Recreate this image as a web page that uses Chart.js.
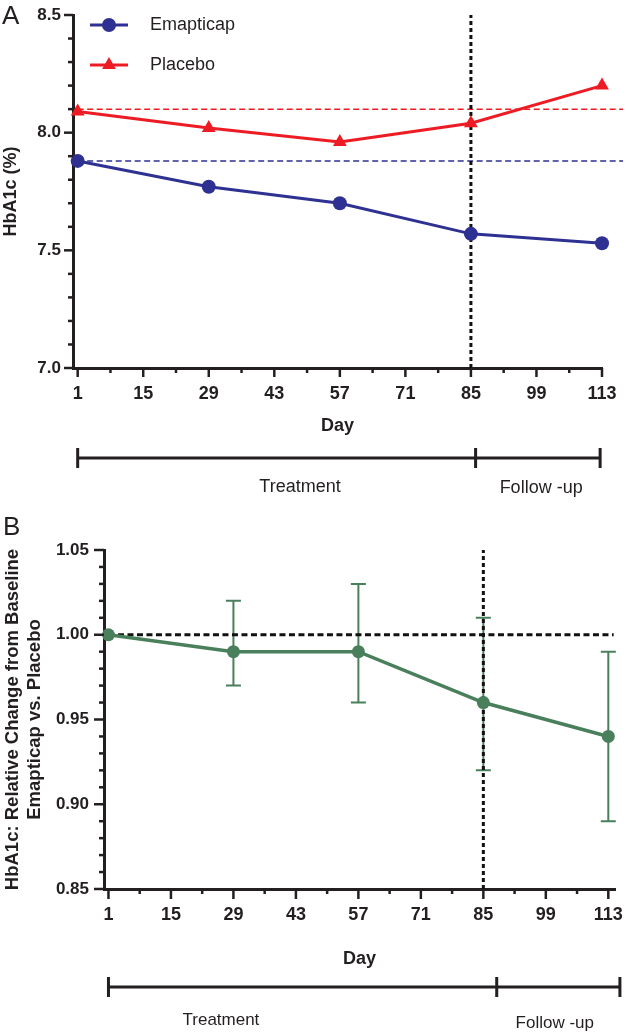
<!DOCTYPE html>
<html>
<head>
<meta charset="utf-8">
<script src="https://cdn.jsdelivr.net/npm/chart.js@4.4.0/dist/chart.umd.min.js"></script>
<style>
body { margin: 0; background: #fff; }
#wrapA { position: absolute; left: 0; top: 0; width: 626px; height: 515px; }
#wrapB { position: absolute; left: 0; top: 515px; width: 626px; height: 521px; }
</style>
</head>
<body>
<div id="wrapA"><canvas id="chartA"></canvas></div>
<div id="wrapB"><canvas id="chartB"></canvas></div>
<script>
// data
var days = [1, 29, 57, 85, 113];
var emapticap = [7.88, 7.77, 7.70, 7.57, 7.53];
var placebo = [8.09, 8.02, 7.96, 8.04, 8.20];
var baseline_emapticap = 7.88;
var baseline_placebo = 8.10;
var ratio = [1.00, 0.99, 0.99, 0.96, 0.94];
var ratio_lo = [null, 0.97, 0.96, 0.92, 0.89];
var ratio_hi = [null, 1.02, 1.03, 1.01, 0.99];
var ratio_ref = 1.00;
var end_of_treatment = 85;
var x_ticks = [1, 15, 29, 43, 57, 71, 85, 99, 113];
var y_ticks_a = [7.0, 7.5, 8.0, 8.5];
var y_ticks_b = [0.85, 0.90, 0.95, 1.00, 1.05];
var phase_names = ["Treatment", "Follow -up"];

var FONT = "'Liberation Sans', Arial, sans-serif";
var INK = "#231f20";
var BLUE = "#2e3192";
var RED = "#ed1c24";
var GREEN = "#4a7f5c";

// layout bits (not data)
var look_a = {
    letter: "A", letterX: 2, letterY: 17,
    barDays: [1, 86, 112.6], labelDays: [48.5, 100],
    barY: 90, labelY: [119, 120], labelSize: 18,
    majorLen: 9, minorLen: 5, refEnd: 117.5
};
var look_b = {
    letter: "B", letterX: 3, letterY: 13,
    barDays: [1, 88, 115.6], labelDays: [26.2, 101],
    barY: 98, labelY: [131, 134], labelSize: 17,
    majorLen: 10, minorLen: 5, refEnd: 114.2
};

Chart.defaults.font.family = FONT;
Chart.defaults.color = INK;
Chart.defaults.animation = false;

function build_ticks(major, steps, digits) {
    var out = [];
    for (var i = 0; i < major.length; i++) {
        out.push({value: major[i], lab: major[i].toFixed(digits)});
        if (i < major.length - 1) {
            var step = (major[i + 1] - major[i]) / steps;
            for (var k = 1; k < steps; k++) {
                out.push({value: major[i] + step * k, lab: ""});
            }
        }
    }
    return out;
}

function xy(xs, ys) {
    var pts = [];
    for (var i = 0; i < xs.length; i++) pts.push({x: xs[i], y: ys[i]});
    return pts;
}

function make_decor(look, legend) {
    return {
        id: "decor",
        afterDraw: function(chart) {
            var ctx = chart.ctx;
            var area = chart.chartArea;
            var sx = chart.scales.x;
            var sy = chart.scales.y;
            ctx.save();
            ctx.strokeStyle = INK;
            ctx.lineWidth = 2.5;
            // tick marks
            sx.ticks.forEach(function(t) {
                var px = sx.getPixelForValue(t.value);
                ctx.beginPath();
                ctx.moveTo(px, area.bottom);
                ctx.lineTo(px, area.bottom + (t.lab ? look.majorLen : look.minorLen));
                ctx.stroke();
            });
            sy.ticks.forEach(function(t) {
                var py = sy.getPixelForValue(t.value);
                ctx.beginPath();
                ctx.moveTo(area.left, py);
                ctx.lineTo(area.left - (t.lab ? look.majorLen : look.minorLen), py);
                ctx.stroke();
            });
            // treatment / follow-up bar
            var by = area.bottom + look.barY;
            var b0 = sx.getPixelForValue(look.barDays[0]);
            var b1 = sx.getPixelForValue(look.barDays[1]);
            var b2 = sx.getPixelForValue(look.barDays[2]);
            ctx.lineWidth = 3;
            ctx.beginPath();
            ctx.moveTo(b0, by); ctx.lineTo(b2, by);
            [b0, b1, b2].forEach(function(px) {
                ctx.moveTo(px, by - 10); ctx.lineTo(px, by + 10);
            });
            ctx.stroke();
            ctx.fillStyle = INK;
            ctx.font = look.labelSize + "px " + FONT;
            ctx.textAlign = "center";
            ctx.textBaseline = "middle";
            for (var i = 0; i < phase_names.length; i++) {
                ctx.fillText(phase_names[i], sx.getPixelForValue(look.labelDays[i]), area.bottom + look.labelY[i]);
            }
            // panel letter
            ctx.font = "26px " + FONT;
            ctx.textAlign = "left";
            ctx.fillText(look.letter, look.letterX, look.letterY);
            // legend (panel A only)
            if (legend) {
                ctx.font = "18px " + FONT;
                legend.forEach(function(item, n) {
                    var ly = 25 + n * 40;
                    ctx.strokeStyle = item.color;
                    ctx.fillStyle = item.color;
                    ctx.lineWidth = 3;
                    ctx.beginPath();
                    ctx.moveTo(90, ly); ctx.lineTo(128, ly);
                    ctx.stroke();
                    Chart.helpers.drawPoint(ctx, {pointStyle: item.style, radius: item.radius, borderWidth: 0, rotation: 0}, 109, ly);
                    ctx.fillStyle = INK;
                    ctx.fillText(item.name, 150, ly);
                });
            }
            ctx.restore();
        }
    };
}

var error_bars = {
    id: "error_bars",
    beforeDatasetsDraw: function(chart) {
        var ctx = chart.ctx;
        var sx = chart.scales.x;
        var sy = chart.scales.y;
        ctx.save();
        ctx.strokeStyle = GREEN;
        ctx.lineWidth = 2;
        for (var i = 0; i < days.length; i++) {
            if (ratio_lo[i] === null) continue;
            var px = sx.getPixelForValue(days[i]);
            var p1 = sy.getPixelForValue(ratio_lo[i]);
            var p2 = sy.getPixelForValue(ratio_hi[i]);
            ctx.beginPath();
            ctx.moveTo(px, p1); ctx.lineTo(px, p2);
            ctx.moveTo(px - 7.5, p1); ctx.lineTo(px + 7.5, p1);
            ctx.moveTo(px - 7.5, p2); ctx.lineTo(px + 7.5, p2);
            ctx.stroke();
        }
        ctx.restore();
    }
};

function x_axis(maxDay, height, titlePad) {
    return {
        type: "linear", min: 0, max: maxDay,
        afterBuildTicks: function(scale) { scale.ticks = build_ticks(x_ticks, 2, 0); },
        afterFit: function(scale) {
            scale.height = height;
            scale.paddingLeft = 0;
            scale.paddingRight = 0;
        },
        grid: {display: false, drawTicks: false},
        border: {display: true, color: INK, width: 3},
        ticks: {
            autoSkip: false, maxRotation: 0, padding: 15,
            font: {size: 18, weight: "bold"},
            callback: function(v, i, t) { return t[i].lab; }
        },
        title: {display: true, text: "Day", font: {size: 18, weight: "bold"}, padding: {top: 0, bottom: titlePad}}
    };
}

function y_axis(ticks, digits, width, pad, title, size, lineHeight, titlePad) {
    return {
        type: "linear", min: ticks[0], max: ticks[ticks.length - 1],
        afterBuildTicks: function(scale) { scale.ticks = build_ticks(ticks, 5, digits); },
        afterFit: function(scale) {
            scale.width = width;
            scale.paddingTop = 0;
            scale.paddingBottom = 0;
        },
        grid: {display: false, drawTicks: false},
        border: {display: true, color: INK, width: 3},
        ticks: {
            autoSkip: false, padding: pad,
            font: {size: 17, weight: "bold"},
            callback: function(v, i, t) { return t[i].lab; }
        },
        title: {display: true, text: title, font: {size: size, weight: "bold", lineHeight: lineHeight}, padding: {top: titlePad, bottom: 0}}
    };
}

var common_plugins = {legend: {display: false}, tooltip: {enabled: false}};

new Chart(document.getElementById("chartA"), {
    type: "line",
    data: {
        datasets: [
            {label: "Emapticap", data: xy(days, emapticap), borderColor: BLUE, backgroundColor: BLUE,
             borderWidth: 3, pointStyle: "circle", pointRadius: 7, pointBorderWidth: 0, order: 1, clip: false},
            {label: "Placebo", data: xy(days, placebo), borderColor: RED, backgroundColor: RED,
             borderWidth: 3, pointStyle: "triangle", pointRadius: 8, pointBorderWidth: 0, order: 1, clip: false},
            {data: [{x: days[0], y: baseline_emapticap}, {x: look_a.refEnd, y: baseline_emapticap}],
             borderColor: BLUE, borderWidth: 1.5, borderDash: [6, 3.5], pointRadius: 0, order: 5, clip: false},
            {data: [{x: days[0], y: baseline_placebo}, {x: look_a.refEnd, y: baseline_placebo}],
             borderColor: RED, borderWidth: 1.5, borderDash: [6, 3.5], pointRadius: 0, order: 5, clip: false},
            {data: [{x: end_of_treatment, y: y_ticks_a[0]}, {x: end_of_treatment, y: y_ticks_a[y_ticks_a.length - 1]}],
             borderColor: "#111", borderWidth: 3, borderDash: [4, 3], pointRadius: 0, order: 4, clip: false}
        ]
    },
    options: {
        responsive: true, maintainAspectRatio: false,
        layout: {padding: {left: 0, top: 15, right: 24, bottom: 0}},
        plugins: common_plugins,
        scales: {
            x: x_axis(113, 147, 78),
            y: y_axis(y_ticks_a, 1, 73, 12, "HbA1c (%)", 18, 1.2, 0)
        }
    },
    plugins: [make_decor(look_a, [
        {name: "Emapticap", color: BLUE, style: "circle", radius: 7},
        {name: "Placebo", color: RED, style: "triangle", radius: 8}
    ])]
});

new Chart(document.getElementById("chartB"), {
    type: "line",
    data: {
        datasets: [
            {label: "Emapticap vs. Placebo", data: xy(days, ratio), borderColor: GREEN, backgroundColor: GREEN,
             borderWidth: 3.5, pointStyle: "circle", pointRadius: 6.5, pointBorderWidth: 0, order: 1, clip: false},
            {data: [{x: days[0], y: ratio_ref}, {x: look_b.refEnd, y: ratio_ref}],
             borderColor: "#111", borderWidth: 3, borderDash: [6, 3.5], pointRadius: 0, order: 5, clip: false},
            {data: [{x: end_of_treatment, y: y_ticks_b[0]}, {x: end_of_treatment, y: y_ticks_b[y_ticks_b.length - 1]}],
             borderColor: "#111", borderWidth: 3, borderDash: [4, 3], pointRadius: 0, order: 4, clip: false}
        ]
    },
    options: {
        responsive: true, maintainAspectRatio: false,
        layout: {padding: {left: 0, top: 35, right: 11, bottom: 0}},
        plugins: common_plugins,
        scales: {
            x: x_axis(114.5, 147, 66),
            y: y_axis(y_ticks_b, 2, 104, 15, ["HbA1c: Relative Change from Baseline", "Emapticap vs. Placebo"], 18.5, 22 / 18.5, 2)
        }
    },
    plugins: [error_bars, make_decor(look_b, null)]
});
</script>
</body>
</html>
